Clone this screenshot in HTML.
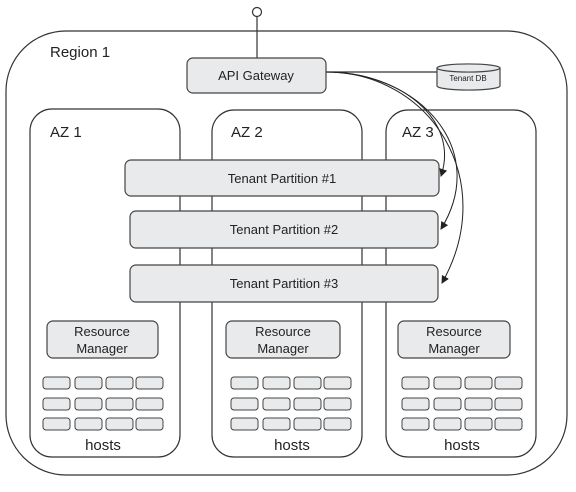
<!DOCTYPE html>
<html><head><style>
body{margin:0;background:#fff;}
svg{display:block;font-family:"Liberation Sans",sans-serif;}
</style></head><body>
<svg width="576" height="492" viewBox="0 0 576 492" xmlns="http://www.w3.org/2000/svg">
<defs><marker id="a" markerWidth="8" markerHeight="8" refX="7" refY="4" orient="auto" markerUnits="userSpaceOnUse"><path d="M0,0 L8,4 L0,8 z" fill="#222"/></marker></defs>
<g fill="none" stroke="#333" stroke-width="1.2">
<rect x="6" y="31" width="561" height="444" rx="60"/>
<rect x="30" y="109" width="150" height="348" rx="22" fill="#fff"/>
<rect x="212" y="110" width="150" height="347" rx="22" fill="#fff"/>
<rect x="386" y="110" width="150" height="347" rx="22" fill="#fff"/>
<line x1="257" y1="17" x2="257" y2="58"/>
<circle cx="257" cy="12" r="4.5" fill="#fff"/>
<line x1="326" y1="72" x2="440" y2="72"/>
</g>
<g fill="#e8eaec" stroke="#444" stroke-width="1.2">
<rect x="187" y="58" width="139" height="35" rx="6"/>
<rect x="125" y="160" width="314" height="36" rx="6"/>
<rect x="130" y="211" width="308" height="37" rx="6"/>
<rect x="130" y="265" width="308" height="37" rx="6"/>
<rect x="47" y="321" width="111" height="37" rx="6"/>
<rect x="226" y="321" width="114" height="37" rx="6"/>
<rect x="398" y="321" width="112" height="37" rx="6"/>
<path d="M437,68 a31,4 0 0 1 63,0 v18 a31,4 0 0 1 -63,0 z"/>
<path d="M437,68 a31,4 0 0 0 63,0" fill="none"/>
</g>
<g fill="#e8eaec" stroke="#444" stroke-width="1">
<g id="h">
<rect x="43" y="377" width="27" height="12" rx="3"/><rect x="75" y="377" width="27" height="12" rx="3"/><rect x="106" y="377" width="27" height="12" rx="3"/><rect x="136" y="377" width="27" height="12" rx="3"/>
<rect x="43" y="398" width="27" height="12" rx="3"/><rect x="75" y="398" width="27" height="12" rx="3"/><rect x="106" y="398" width="27" height="12" rx="3"/><rect x="136" y="398" width="27" height="12" rx="3"/>
<rect x="43" y="418" width="27" height="12" rx="3"/><rect x="75" y="418" width="27" height="12" rx="3"/><rect x="106" y="418" width="27" height="12" rx="3"/><rect x="136" y="418" width="27" height="12" rx="3"/>
</g>
<use href="#h" x="188"/>
<use href="#h" x="359"/>
</g>
<g fill="none" stroke="#222" stroke-width="1">
<path d="M326,72 C400,72 460,120 441,176" marker-end="url(#a)"/>
<path d="M326,72 C420,72 490,150 441,229" marker-end="url(#a)"/>
<path d="M326,72 C430,72 500,180 442,283" marker-end="url(#a)"/>
</g>
<g fill="#222" font-size="13" text-anchor="middle">
<text x="256" y="80">API Gateway</text>
<text x="282" y="183">Tenant Partition #1</text>
<text x="284" y="234">Tenant Partition #2</text>
<text x="284" y="288">Tenant Partition #3</text>
<text x="102" y="336">Resource</text><text x="102" y="353">Manager</text>
<text x="283" y="336">Resource</text><text x="283" y="353">Manager</text>
<text x="454" y="336">Resource</text><text x="454" y="353">Manager</text>
<text x="103" y="450" font-size="15">hosts</text>
<text x="292" y="450" font-size="15">hosts</text>
<text x="462" y="450" font-size="15">hosts</text>
<text x="468" y="81" font-size="8">Tenant DB</text>
</g>
<g fill="#222" font-size="15">
<text x="50" y="57">Region 1</text>
<text x="50" y="137">AZ 1</text>
<text x="231" y="137">AZ 2</text>
<text x="402" y="137">AZ 3</text>
</g>
</svg>
</body></html>
